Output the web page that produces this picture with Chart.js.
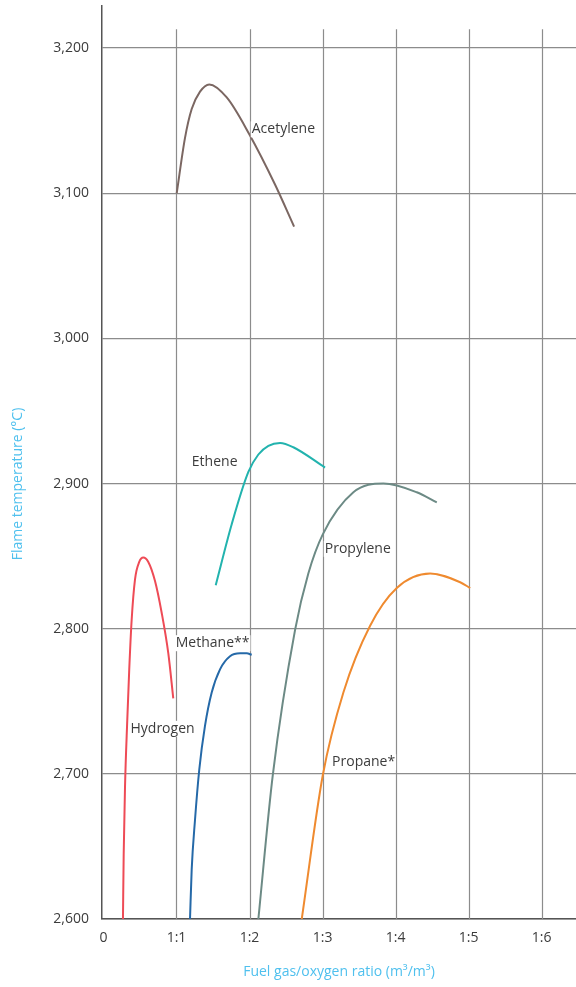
<!DOCTYPE html>
<html>
<head>
<meta charset="utf-8">
<script src="https://cdn.jsdelivr.net/npm/chart.js@4/dist/chart.umd.min.js"></script>
<style>
  html, body { margin: 0; padding: 0; background: #fff; }
  #wrap { width: 576px; height: 987px; position: relative; }
</style>
</head>
<body>
<div id="wrap"><canvas id="flame"></canvas></div>
<script>
// axis ticks
const xTicks = [0, 1, 2, 3, 4, 5, 6];
const xTickLabels = ['0', '1:1', '1:2', '1:3', '1:4', '1:5', '1:6'];
const yTicks = [2600, 2700, 2800, 2900, 3000, 3100, 3200];

// fuel gas / oxygen ratio vs flame temperature, per gas
const hydrogenX = [0.267, 0.277, 0.295, 0.326, 0.353, 0.386, 0.432, 0.490, 0.545, 0.614, 0.705, 0.797, 0.888, 0.956];
const hydrogenY = [2600, 2645, 2691, 2737, 2772, 2806, 2834, 2846, 2849, 2846, 2833, 2811, 2783, 2752];

const methaneX = [1.185, 1.208, 1.253, 1.312, 1.390, 1.482, 1.596, 1.733, 1.870, 1.962, 2.030];
const methaneY = [2600, 2634, 2668, 2703, 2733, 2756, 2772, 2781, 2783, 2783, 2782];

const acetyleneX = [1.003, 1.116, 1.208, 1.322, 1.449, 1.688, 1.993, 2.349, 2.610];
const acetyleneY = [3100, 3138, 3158, 3170, 3175, 3166, 3141, 3106, 3077];

const etheneX = [1.537, 1.756, 1.984, 2.121, 2.258, 2.418, 2.600, 3.034];
const etheneY = [2830, 2872, 2908, 2920, 2926, 2928, 2925, 2911];

const propyleneX = [2.121, 2.318, 2.623, 2.805, 3.003, 3.422, 3.833, 4.290, 4.564];
const propyleneY = [2600, 2699, 2799, 2838, 2865, 2894, 2900, 2894, 2887];

const propaneX = [2.715, 3.003, 3.285, 3.651, 4.016, 4.473, 4.884, 5.021];
const propaneY = [2600, 2699, 2756, 2802, 2828, 2838, 2832, 2828];

// curve labels, anchored at their left edge
const labelText = ['Acetylene', 'Ethene', 'Propylene', 'Methane**', 'Hydrogen', 'Propane*'];
const labelX = [2.03, 1.21, 3.03, 0.99, 0.37, 3.13];
const labelY = [3144, 2915, 2855, 2790, 2731, 2708];

const textColor = '#3c3c3c';
const titleColor = '#4fc0ee';
const gridColor = '#8c8c8c';
const fontFamily = '"Open Sans", "Noto Sans", sans-serif';
const fontSize = 14;

function toPoints(xs, ys) {
  return xs.map((x, i) => ({ x, y: ys[i] }));
}

function curve(label, xs, ys, color) {
  return {
    label,
    data: toPoints(xs, ys),
    borderColor: color,
    backgroundColor: color,
    borderWidth: 2,
    pointRadius: 0,
    showLine: true,
    fill: false,
    cubicInterpolationMode: 'monotone'
  };
}

// vertical grid lines stop a little above the 3,200 line
const xGridPlugin = {
  id: 'xGrid',
  beforeDatasetsDraw(chart) {
    const { ctx, scales: { x, y } } = chart;
    const top = y.getPixelForValue(3213);
    const bottom = y.getPixelForValue(2600);
    ctx.save();
    ctx.strokeStyle = gridColor;
    ctx.lineWidth = 1.2;
    xTicks.slice(1).forEach((v) => {
      const px = Math.round(x.getPixelForValue(v)) + 0.5;
      ctx.beginPath();
      ctx.moveTo(px, top);
      ctx.lineTo(px, bottom);
      ctx.stroke();
    });
    ctx.restore();
  }
};

const curveLabelPlugin = {
  id: 'curveLabels',
  afterDatasetsDraw(chart) {
    const { ctx, scales: { x, y } } = chart;
    ctx.save();
    ctx.font = '500 ' + fontSize + 'px ' + fontFamily;
    ctx.textBaseline = 'middle';
    ctx.textAlign = 'left';
    labelText.forEach((t, i) => {
      const px = x.getPixelForValue(labelX[i]);
      const py = y.getPixelForValue(labelY[i]);
      const w = ctx.measureText(t).width;
      ctx.fillStyle = '#fff';
      ctx.fillRect(px - 1, py - 8, w + 2, 16);
      ctx.fillStyle = textColor;
      ctx.fillText(t, px, py);
    });
    ctx.restore();
  }
};

const yTitlePlugin = {
  id: 'yTitle',
  afterDraw(chart) {
    const { ctx } = chart;
    ctx.save();
    ctx.translate(18, 484);
    ctx.rotate(-Math.PI / 2);
    ctx.font = fontSize + 'px ' + fontFamily;
    ctx.fillStyle = titleColor;
    ctx.textAlign = 'center';
    ctx.textBaseline = 'middle';
    ctx.fillText('Flame temperature (°C)', 0, 0);
    ctx.restore();
  }
};

const tickFont = { family: fontFamily, size: fontSize, weight: '500' };

new Chart(document.getElementById('flame'), {
  type: 'scatter',
  data: {
    datasets: [
      curve('Acetylene', acetyleneX, acetyleneY, '#7b6762'),
      curve('Ethene', etheneX, etheneY, '#22b3ae'),
      curve('Propylene', propyleneX, propyleneY, '#6c8a85'),
      curve('Propane*', propaneX, propaneY, '#ef8a2f'),
      curve('Methane**', methaneX, methaneY, '#2569a8'),
      curve('Hydrogen', hydrogenX, hydrogenY, '#ee4b56')
    ]
  },
  options: {
    responsive: true,
    maintainAspectRatio: false,
    animation: false,
    devicePixelRatio: 1,
    layout: { padding: { top: 6, right: 0, left: 0, bottom: 0 } },
    plugins: {
      legend: { display: false },
      tooltip: { enabled: false }
    },
    scales: {
      x: {
        type: 'linear',
        min: -0.02,
        max: 6.47,
        afterBuildTicks(scale) {
          scale.ticks = xTicks.map((v) => ({ value: v }));
        },
        afterFit(scale) {
          scale.height = 68;
          scale.paddingLeft = 0;
          scale.paddingRight = 0;
        },
        grid: { display: false, drawTicks: false },
        border: { display: true, color: '#555', width: 1.5 },
        ticks: {
          padding: 11,
          color: textColor,
          font: tickFont,
          callback: (v) => xTickLabels[xTicks.indexOf(v)]
        },
        title: {
          display: true,
          text: 'Fuel gas/oxygen ratio (m³/m³)',
          color: titleColor,
          font: { family: fontFamily, size: fontSize },
          padding: { top: 4, bottom: 7 }
        }
      },
      y: {
        type: 'linear',
        min: 2600,
        max: 3229,
        afterBuildTicks(scale) {
          scale.ticks = yTicks.map((v) => ({ value: v }));
        },
        afterFit(scale) {
          scale.width = 102;
          scale.paddingTop = 0;
          scale.paddingBottom = 0;
        },
        grid: { color: gridColor, lineWidth: 1.2, drawTicks: false },
        border: { display: true, color: '#555', width: 1.5 },
        ticks: {
          padding: 13,
          color: textColor,
          font: tickFont,
          callback: (v) => v.toLocaleString('en-US')
        }
      }
    }
  },
  plugins: [xGridPlugin, curveLabelPlugin, yTitlePlugin]
});
</script>
</body>
</html>
